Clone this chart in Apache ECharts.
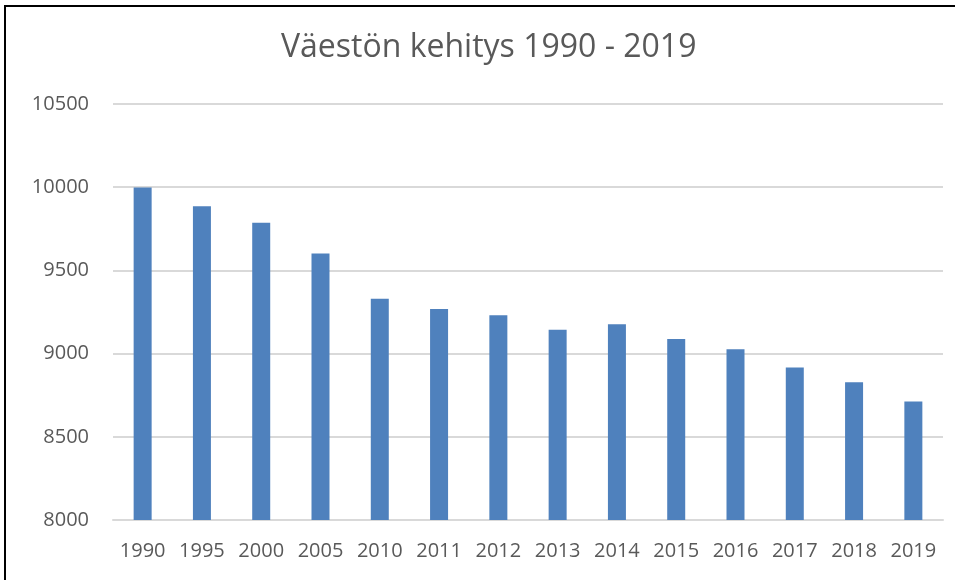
<!DOCTYPE html>
<html>
<head>
<meta charset="utf-8">
<script src="https://cdn.jsdelivr.net/npm/echarts@6/dist/echarts.min.js"></script>
<style>
  html, body { margin: 0; padding: 0; background: #fff; }
  #chart { width: 955px; height: 580px; }
</style>
</head>
<body>
<div id="chart"></div>
<script>
// vuodet ja väkiluku
const years = ['1990', '1995', '2000', '2005', '2010', '2011', '2012', '2013', '2014', '2015', '2016', '2017', '2018', '2019'];
const population = [9998, 9886, 9786, 9602, 9330, 9268, 9230, 9144, 9176, 9088, 9026, 8916, 8828, 8712];
const yTicks = [8000, 8500, 9000, 9500, 10000, 10500];

const chart = echarts.init(document.getElementById('chart'));
const textColor = '#595959';
const font = 'Open Sans';

const option = {
  animation: false,
  title: {
    text: 'Väestön kehitys 1990 - 2019',
    left: 276,
    top: 27,
    textStyle: { color: textColor, fontFamily: font, fontSize: 32, fontWeight: 'normal' }
  },
  grid: { left: 113, right: 12, top: 104, bottom: 60 },
  xAxis: {
    type: 'category',
    data: years,
    axisTick: { show: false },
    axisLine: { lineStyle: { color: '#d9d9d9', width: 2 } },
    axisLabel: { color: textColor, fontFamily: font, fontSize: 20, margin: 21, interval: 0 }
  },
  yAxis: {
    type: 'value',
    min: yTicks[0],
    max: yTicks[yTicks.length - 1],
    interval: 500,
    axisLine: { show: false },
    axisTick: { show: false },
    splitLine: { lineStyle: { color: '#d9d9d9', width: 2 } },
    axisLabel: { color: textColor, fontFamily: font, fontSize: 20, margin: 24, formatter: v => String(v) }
  },
  series: [{
    type: 'bar',
    data: population,
    barWidth: 18,
    itemStyle: { color: '#4f81bd' }
  }],
  graphic: [
    { type: 'rect', shape: { x: 4, y: 5, width: 2, height: 575 }, style: { fill: '#000' } },
    { type: 'rect', shape: { x: 4, y: 5, width: 951, height: 2 }, style: { fill: '#000' } }
  ]
};

chart.setOption(option);
</script>
</body>
</html>
